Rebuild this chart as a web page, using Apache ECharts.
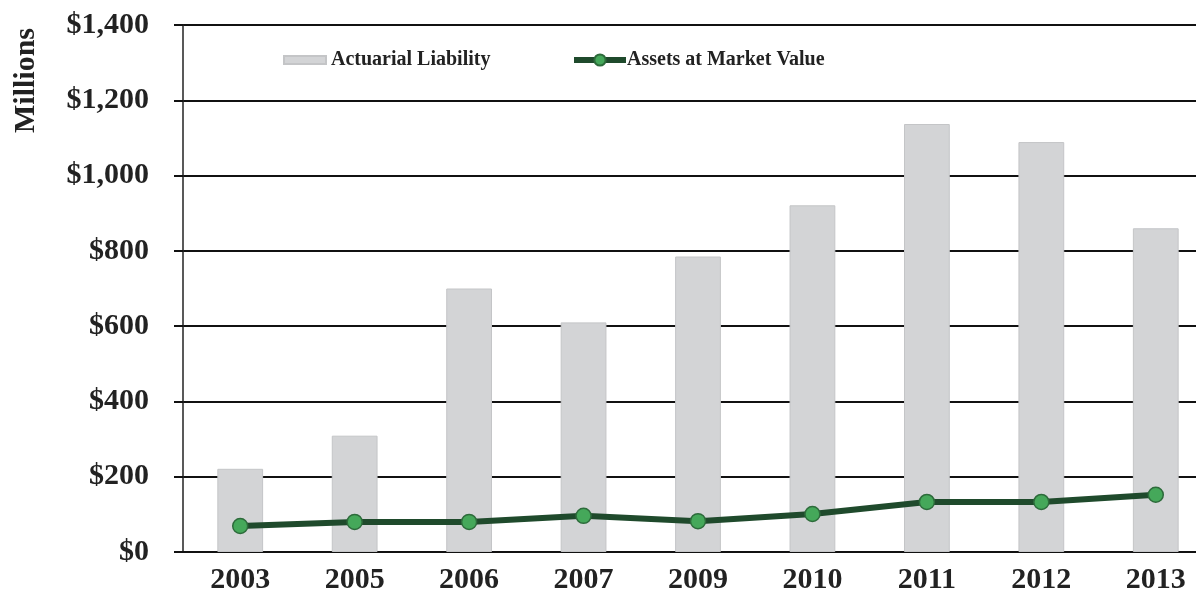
<!DOCTYPE html>
<html><head><meta charset="utf-8">
<script src="https://cdn.jsdelivr.net/npm/echarts@6/dist/echarts.min.js"></script>
<style>html,body{margin:0;padding:0;background:#fff;overflow:hidden}#c{width:1216px;height:596px}</style>
</head><body><div id="c"></div>
<script>
const years = ['2003','2005','2006','2007','2009','2010','2011','2012','2013'];
const liability = [221, 309, 700, 610, 785, 921, 1137, 1089, 860];
const assets = [69, 80, 80, 96, 82, 101, 133, 133, 152];
const yTicks = [0, 200, 400, 600, 800, 1000, 1200, 1400];
const fam = '"Liberation Serif", "Times New Roman", serif';
const chart = echarts.init(document.getElementById('c'));
chart.setOption({
  animation: false,
  backgroundColor: '#fff',
  grid: { left: 183, top: 25, width: 1030, height: 527, containLabel: false },
  legend: [
    { left: 278, top: 45, itemWidth: 42, itemHeight: 8, data: [{ name: 'Actuarial Liability', icon: 'rect' }],
      textStyle: { fontFamily: fam, fontWeight: 'bold', fontSize: 20, color: '#222' } },
    { left: 566, top: 45, itemWidth: 52, itemHeight: 14, itemGap: 2,
      data: [{ name: 'Assets at Market Value' }],
      lineStyle: { width: 6, color: '#1f4a2c' },
      textStyle: { fontFamily: fam, fontWeight: 'bold', fontSize: 20, color: '#222', padding: [0, 0, 0, -4] } }
  ],
  graphic: [{
    type: 'text', left: 11, top: 28,
    rotation: Math.PI / 2, originX: 0, originY: 0,
    style: { text: 'Millions', fontFamily: fam, fontWeight: 'bold', fontSize: 30, fill: '#222' }
  }],
  xAxis: {
    type: 'category', data: years,
    axisLine: { show: true, lineStyle: { color: '#111', width: 2 } },
    axisTick: { show: false },
    axisLabel: { margin: 13, fontFamily: fam, fontWeight: 'bold', fontSize: 30, color: '#222' },
    splitLine: { show: false }
  },
  yAxis: {
    type: 'value', min: 0, max: 1400, interval: 200,
    axisLine: { show: true, lineStyle: { color: '#222', width: 1.5 } },
    axisTick: { show: true, length: 9, lineStyle: { color: '#111', width: 2 } },
    axisLabel: { margin: 34, fontFamily: fam, fontWeight: 'bold', fontSize: 30, color: '#222',
      formatter: v => yTicks.includes(v) ? '$' + v.toLocaleString('en-US') : '' },
    splitLine: { show: true, lineStyle: { color: '#111', width: 2 } }
  },
  series: [
    { name: 'Actuarial Liability', type: 'bar', data: liability, barWidth: '40%', z: 2,
      itemStyle: { color: '#d3d4d6', borderColor: '#c4c5c7', borderWidth: 1 } },
    { name: 'Assets at Market Value', type: 'line', data: assets, z: 3,
      symbol: 'circle', symbolSize: 15,
      lineStyle: { color: '#1f4a2c', width: 6 },
      itemStyle: { color: '#45a85a', borderColor: '#2d6b3b', borderWidth: 1.5 } }
  ]
});
</script></body></html>
